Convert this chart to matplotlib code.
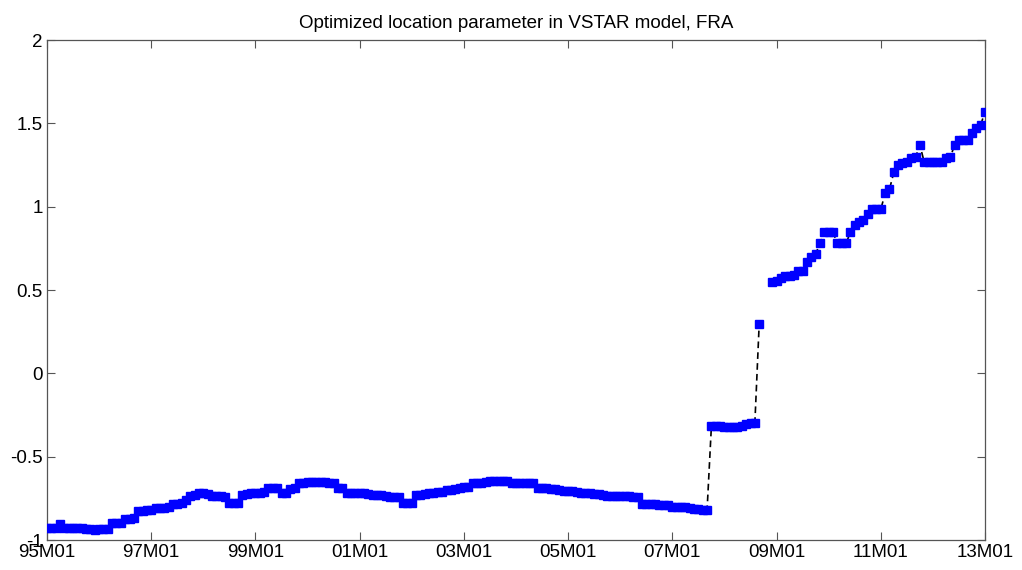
import matplotlib.pyplot as plt
import numpy as np

# monthly series 95M01 .. 13M01 (217 months)
nan = np.nan
loc_param = [
    -0.93, -0.93, -0.93, -0.905, -0.93, -0.93, -0.93, -0.93, -0.93, -0.936,
    -0.936, -0.94, -0.936, -0.936, -0.936, -0.90, -0.90, -0.895, -0.876, -0.876,
    -0.87, -0.824, -0.824, -0.82, -0.82, -0.81, -0.81, -0.81, -0.80, -0.784,
    -0.784, -0.78, -0.76, -0.736, -0.73, -0.72, -0.72, -0.725, -0.734, -0.734,
    -0.734, -0.74, -0.78, -0.78, -0.78, -0.73, -0.725, -0.72, -0.72, -0.718,
    -0.71, -0.69, -0.69, -0.69, -0.716, -0.716, -0.696, -0.69, -0.66, -0.658,
    -0.65, -0.65, -0.65, -0.65, -0.652, -0.655, -0.66, -0.69, -0.69, -0.716,
    -0.716, -0.718, -0.72, -0.72, -0.722, -0.73, -0.73, -0.73, -0.735, -0.74,
    -0.74, -0.74, -0.78, -0.78, -0.78, -0.73, -0.73, -0.725, -0.72, -0.716,
    -0.71, -0.71, -0.70, -0.70, -0.695, -0.69, -0.684, -0.68, -0.656, -0.656,
    -0.655, -0.65, -0.648, -0.644, -0.644, -0.644, -0.648, -0.656, -0.656, -0.656,
    -0.658, -0.658, -0.66, -0.69, -0.69, -0.69, -0.692, -0.695, -0.70, -0.704,
    -0.704, -0.706, -0.71, -0.72, -0.72, -0.72, -0.722, -0.725, -0.73, -0.734,
    -0.736, -0.736, -0.736, -0.738, -0.738, -0.74, -0.742, -0.784, -0.784, -0.786,
    -0.786, -0.788, -0.79, -0.79, -0.80, -0.80, -0.80, -0.802, -0.805, -0.816,
    -0.816, -0.818, -0.82, -0.314, -0.316, -0.318, -0.322, -0.324, -0.322, -0.32,
    -0.316, -0.305, -0.30, -0.30, 0.296, nan, nan, 0.55, 0.555, 0.57,
    0.585, 0.585, 0.59, 0.614, 0.614, 0.67, 0.70, 0.716, 0.78, 0.846,
    0.846, 0.846, 0.78, 0.78, 0.78, 0.846, 0.89, 0.91, 0.92, 0.954,
    0.984, 0.984, 0.984, 1.08, 1.104, 1.206, 1.25, 1.265, 1.27, 1.29,
    1.296, 1.37, 1.268, 1.268, 1.268, 1.268, 1.268, 1.29, 1.296, 1.37,
    1.40, 1.40, 1.40, 1.444, 1.474, 1.49, 1.57,
]
tick_labels = ['95M01', '97M01', '99M01', '01M01', '03M01',
               '05M01', '07M01', '09M01', '11M01', '13M01']
ytick_vals = [-1, -0.5, 0, 0.5, 1, 1.5, 2]
ytick_labels = ['-1', '-0.5', '0', '0.5', '1', '1.5', '2']

plt.rcParams['font.family'] = ['Liberation Sans', 'DejaVu Sans']

months = np.arange(len(loc_param))

fig = plt.figure(figsize=(10.22, 5.70), dpi=100)
ax = fig.add_axes([0.046, 0.0526, 0.9178, 0.8772])

ax.plot(months, loc_param, linestyle=(0, (4, 2.5)), color='black', linewidth=1.2, zorder=2)
ax.plot(months, loc_param, linestyle='none', marker='s', markersize=6,
        markerfacecolor='#0000ff', markeredgecolor='#0000ff', zorder=3)

ax.set_xlim(0, len(loc_param) - 1)
ax.set_ylim(-1, 2)
ax.set_xticks(np.arange(0, len(loc_param), 24))
ax.set_xticklabels(tick_labels)
ax.set_yticks(ytick_vals)
ax.set_yticklabels(ytick_labels)

for sp in ax.spines.values():
    sp.set_color('#555555')
    sp.set_linewidth(0.9)
ax.tick_params(direction='in', length=6, width=0.8, color='#555555',
               labelsize=13.5, top=True, right=True, pad=3)

ax.set_title('Optimized location parameter in VSTAR model, FRA', fontsize=13.5, pad=9)

fig.savefig('out.png', dpi=100)
